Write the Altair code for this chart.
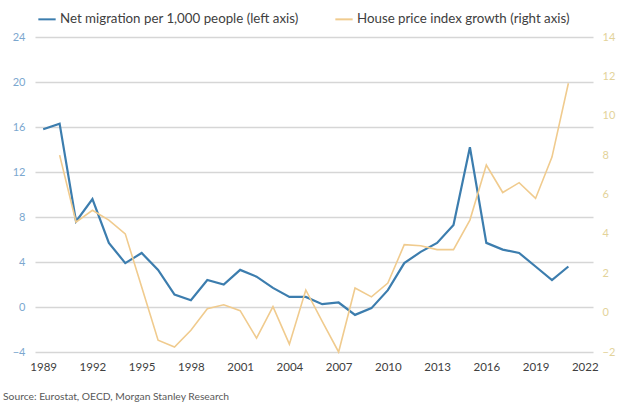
import altair as alt
import pandas as pd

years_mig = list(range(1989, 2022))
migration = [15.8, 16.3, 7.6, 9.6, 5.7, 3.9, 4.8, 3.3, 1.1, 0.6,
             2.4, 2.0, 3.3, 2.7, 1.7, 0.9, 0.9, 0.25, 0.4, -0.7,
             -0.1, 1.5, 3.9, 4.9, 5.7, 7.3, 14.2, 5.7, 5.1, 4.8,
             3.6, 2.4, 3.6]

years_hpi = list(range(1990, 2022))
house_price = [8.0, 4.6, 5.2, 4.7, 4.0, 1.3, -1.4, -1.75, -0.9, 0.2,
               0.4, 0.1, -1.3, 0.3, -1.6, 1.15, -0.45, -2.0, 1.25, 0.8,
               1.5, 3.45, 3.4, 3.2, 3.2, 4.7, 7.5, 6.1, 6.6, 5.8,
               7.9, 11.65]

series_names = ["Net migration per 1,000 people (left axis)",
                "House price index growth (right axis)"]
series_colors = ["#3C7DAE", "#F0CB8E"]

left_ticks = [-4, 0, 4, 8, 12, 16, 20, 24]
right_ticks = [-2, 0, 2, 4, 6, 8, 10, 12, 14]
x_ticks = list(range(1989, 2023, 3))
source_text = "Source: Eurostat, OECD, Morgan Stanley Research"

df_m = pd.DataFrame({"year": years_mig, "value": migration, "series": series_names[0]})
df_h = pd.DataFrame({"year": years_hpi, "value": house_price, "series": series_names[1]})

FONT = "Lato"

x_enc = alt.X("year:Q",
              scale=alt.Scale(domain=[1988.5, 2022.5], nice=False, zero=False),
              axis=alt.Axis(values=x_ticks, format="d", title=None, grid=False,
                            domain=False, ticks=False, labelPadding=9,
                            labelFontSize=11.5, labelColor="#404040", labelFont=FONT))

color_enc = alt.Color("series:N",
                      scale=alt.Scale(domain=series_names, range=series_colors),
                      legend=alt.Legend(title=None, orient="none", legendX=2, legendY=-28,
                                        direction="horizontal", symbolType="stroke",
                                        symbolSize=300, symbolStrokeWidth=2,
                                        labelFontSize=13.3, labelFont=FONT,
                                        labelColor="#404040", columnPadding=32,
                                        labelOffset=3, padding=0, labelLimit=0))

house = alt.Chart(df_h).mark_line(strokeWidth=1.6).encode(
    x=x_enc,
    y=alt.Y("value:Q",
            scale=alt.Scale(domain=[-2, 14], nice=False, zero=False),
            axis=alt.Axis(orient="right", values=right_ticks, title=None, grid=False,
                          domain=False, ticks=False, labelPadding=9,
                          labelFontSize=11, labelColor="#E3D39A", labelFont=FONT)),
    color=color_enc,
)

mig = alt.Chart(df_m).mark_line(strokeWidth=2.2).encode(
    x=x_enc,
    y=alt.Y("value:Q",
            scale=alt.Scale(domain=[-4, 24], nice=False, zero=False),
            axis=alt.Axis(orient="left", values=left_ticks, title=None, grid=True,
                          gridColor="#D6D6D6", gridWidth=1.4,
                          domain=False, ticks=False, labelPadding=10,
                          labelFontSize=11, labelColor="#7BA7CF", labelFont=FONT)),
    color=color_enc,
)

src = alt.Chart(pd.DataFrame({"t": [source_text]})).mark_text(
    align="left", baseline="middle", fontSize=10.3, color="#595959", font=FONT
).encode(x=alt.value(-32), y=alt.value(360), text="t:N")

chart = alt.layer(mig, house, src).resolve_scale(y="independent").properties(
    width=558, height=315,
    autosize=alt.AutoSizeParams(type="none"),
    padding={"left": 35, "top": 37, "right": 27, "bottom": 54},
).configure_view(stroke=None)

chart.save("out.html", embed_options={"renderer": "svg", "actions": False})
